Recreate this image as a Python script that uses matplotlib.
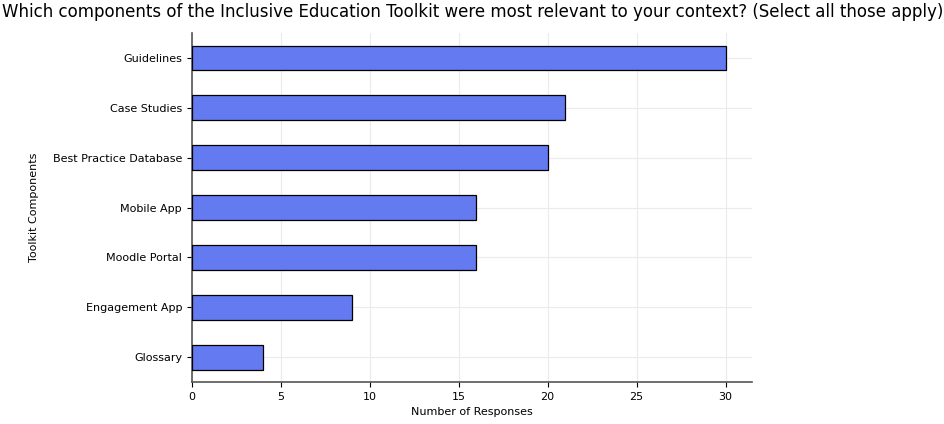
import matplotlib.pyplot as plt
import numpy as np

# Dados
componentes = ['Guidelines', 'Case Studies', 'Best Practice Database', 'Mobile App',
               'Moodle Portal', 'Engagement App', 'Glossary']
respostas = [30, 21, 20, 16, 16, 9, 4]

fig = plt.figure(figsize=(9.45, 4.24), dpi=100)
ax = fig.add_axes([0.203, 0.099, 0.593, 0.823])

y = np.arange(len(componentes))[::-1]
ax.barh(y, respostas, height=0.5, color='#647af0', edgecolor='black', linewidth=0.9, zorder=3)

ax.set_yticks(y)
ax.set_yticklabels(componentes, fontsize=8)
ax.set_ylim(-0.5, len(componentes) - 0.5)
ax.set_xlim(0, max(respostas) * 1.05)
ax.set_xticks([0, 5, 10, 15, 20, 25, 30])
ax.tick_params(axis='x', labelsize=8)

ax.grid(True, color='#ebebeb', linewidth=0.8, zorder=0)
ax.spines['top'].set_visible(False)
ax.spines['right'].set_visible(False)
for s in ['left', 'bottom']:
    ax.spines[s].set_color('#555555')
    ax.spines[s].set_linewidth(1.2)

ax.set_xlabel('Number of Responses', fontsize=8)
ax.set_ylabel('Toolkit Components', fontsize=8, labelpad=10)
fig.text(0.5, 0.972, 'Which components of the Inclusive Education Toolkit were most relevant to your context? (Select all those apply)',
         ha='center', va='center', fontsize=12)

fig.savefig('out.png', dpi=100)
